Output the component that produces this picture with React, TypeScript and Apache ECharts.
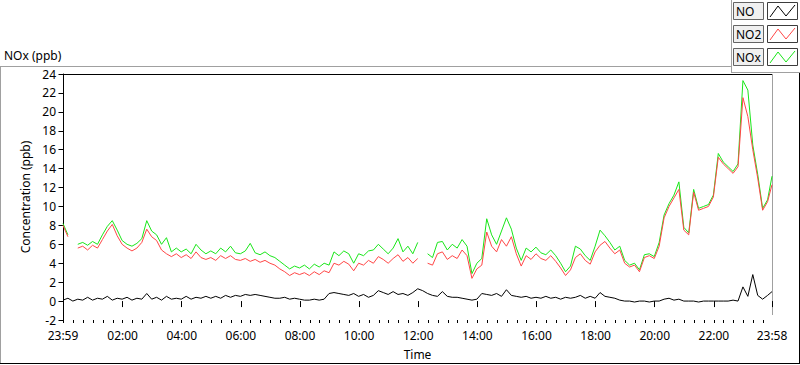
import React, { useEffect, useRef } from "react";
import * as echarts from "echarts";

// Time axis: minutes after midnight; 23:59 of the previous day = -1
const START_MIN = -1;
const END_MIN = 1438;
const STEP_MIN = 10;

// NO2 (ppb), one value every 10 minutes starting at 23:59
const no2: (number | null)[] = [
  8.0, 6.8, null, 5.6, 5.8, 5.4, 5.9, 5.6, 6.5, 7.4, 8.1, 6.9,
  6.0, 5.6, 5.3, 5.6, 6.2, 7.6, 6.8, 6.4, 5.4, 5.0, 4.7, 5.0,
  4.6, 4.9, 4.5, 5.2, 4.6, 4.4, 4.6, 4.3, 4.8, 4.5, 4.8, 4.4,
  4.3, 4.5, 4.2, 4.4, 4.1, 4.3, 4.0, 3.8, 3.4, 3.1, 2.7, 3.0,
  2.8, 3.0, 2.7, 3.1, 2.8, 3.2, 3.0, 4.0, 3.8, 4.2, 3.9, 3.2,
  4.0, 3.8, 4.3, 4.0, 4.7, 4.4, 4.0, 4.5, 4.9, 4.2, 4.6, 4.0,
  4.5, null, 4.0, 3.8, 5.0, 5.2, 4.4, 4.8, 4.5, 5.4, 4.8, 2.4,
  3.4, 3.8, 7.3, 5.8, 5.2, 6.5, 5.8, 6.8, 5.0, 3.7, 4.8, 4.4,
  5.0, 4.5, 4.3, 4.8, 4.2, 3.5, 2.7, 3.3, 4.6, 5.0, 4.3, 3.9,
  5.2, 5.9, 6.3, 5.6, 5.0, 5.4, 4.0, 3.6, 3.8, 3.1, 4.6, 4.8,
  4.5, 5.8, 8.8, 10.0, 10.9, 11.8, 7.5, 7.0, 11.5, 9.6, 9.8, 10.0,
  11.0, 15.2, 14.5, 14.0, 13.5, 14.2, 21.5, 19.5, 16.0, 13.0, 9.6, 10.5,
  12.3,
];

// NOx (ppb)
const nox: (number | null)[] = [
  8.2, 7.0, null, 6.0, 6.2, 5.9, 6.3, 6.0, 7.0, 7.9, 8.5, 7.5,
  6.4, 6.0, 5.8, 6.1, 6.6, 8.5, 7.4, 7.0, 6.0, 6.7, 5.2, 5.6,
  5.2, 5.5, 5.0, 6.0, 5.4, 5.0, 5.3, 5.0, 5.6, 5.2, 5.8, 5.1,
  5.0, 5.3, 6.1, 5.1, 4.9, 5.2, 4.8, 4.6, 4.2, 3.8, 3.4, 3.7,
  3.5, 3.8, 3.4, 3.9, 3.6, 4.0, 3.8, 5.2, 4.8, 5.3, 5.0, 4.0,
  5.0, 4.8, 5.3, 5.4, 6.0, 5.5, 5.0, 5.6, 6.6, 5.2, 5.8, 5.0,
  6.2, null, 5.0, 4.6, 6.2, 6.3, 5.4, 6.0, 5.6, 6.5, 5.8, 2.9,
  4.0, 4.5, 8.7, 7.0, 6.0, 7.4, 8.8, 7.6, 5.6, 4.3, 5.6, 5.2,
  5.7, 5.1, 4.9, 5.4, 4.8, 4.0, 3.1, 3.7, 5.8, 5.5, 4.8, 4.3,
  5.8, 7.5, 6.9, 6.2, 5.4, 5.8, 4.3, 3.8, 4.0, 3.3, 4.9, 5.0,
  4.7, 6.2, 9.1, 10.3, 11.2, 12.6, 7.8, 7.2, 11.8, 9.8, 10.0, 10.2,
  11.2, 15.6, 14.7, 14.2, 13.7, 14.5, 23.3, 22.3, 16.5, 13.4, 9.8, 10.7,
  13.2,
];

// NO (ppb)
const no: (number | null)[] = [
  0.1, 0.3, 0.0, 0.2, 0.1, 0.4, 0.1, 0.3, 0.2, 0.5, 0.1, 0.3,
  0.2, 0.4, 0.1, 0.3, 0.2, 0.8, 0.2, 0.4, 0.1, 0.5, 0.2, 0.3,
  0.2, 0.5, 0.2, 0.4, 0.3, 0.5, 0.3, 0.5, 0.3, 0.6, 0.4, 0.6,
  0.5, 0.7, 0.6, 0.7, 0.6, 0.5, 0.4, 0.3, 0.3, 0.4, 0.2, 0.3,
  0.2, 0.1, 0.1, 0.2, 0.1, 0.2, 0.8, 0.9, 0.8, 0.7, 0.6, 0.8,
  0.5, 0.7, 0.4, 0.6, 1.1, 0.9, 0.7, 1.0, 0.7, 0.8, 0.6, 0.9,
  1.3, 1.1, 0.8, 0.6, 0.5, 1.0, 0.5, 0.4, 0.4, 0.3, 0.2, 0.1,
  0.2, 0.8, 0.7, 0.6, 0.8, 0.5, 1.2, 0.6, 0.5, 0.4, 0.5, 0.3,
  0.4, 0.3, 0.5, 0.3, 0.4, 0.2, 0.4, 0.3, 0.4, 0.6, 0.3, 0.5,
  0.3, 0.9, 0.5, 0.4, 0.3, 0.1, 0.0, 0.0, -0.1, 0.0, 0.0, -0.1,
  0.0, 0.0, 0.2, 0.3, 0.1, 0.2, 0.0, 0.0, 0.0, -0.1, 0.0, 0.0,
  0.0, 0.0, 0.0, 0.0, 0.1, 0.0, 1.5, 0.5, 2.8, 0.6, 0.2, 0.6,
  1.0,
];

// Labelled ticks on the time axis (minutes after midnight)
const majorTickMinutes = [-1, 120, 240, 360, 480, 600, 720, 840, 960, 1080, 1200, 1320, 1438];
const MINOR_TICK_STEP = 20;

const seriesInfo = [
  { name: "NO", color: "#000000", values: no },
  { name: "NO2", color: "#ff4646", values: no2 },
  { name: "NOx", color: "#19e619", values: nox },
];

const FONT = "'Segoe UI', 'Noto Sans', sans-serif";

function timeAt(i: number) {
  return Math.min(START_MIN + i * STEP_MIN, END_MIN);
}

function fmtTime(v: number) {
  let m = Math.round(v);
  if (m < 0) m += 1440;
  const hh = Math.floor(m / 60);
  const mm = m % 60;
  return String(hh).padStart(2, "0") + ":" + String(mm).padStart(2, "0");
}

export default function App() {
  const ref = useRef<HTMLDivElement>(null);

  useEffect(() => {
    if (!ref.current) return;
    const chart = echarts.init(ref.current, undefined, { renderer: "svg" });

    const minorTicks: number[] = [];
    for (let m = 0; m <= END_MIN; m += MINOR_TICK_STEP) minorTicks.push(m);

    const gridL = 63, gridT = 74, gridW = 709, gridH = 246;

    const legendGraphics: any[] = [];
    seriesInfo.forEach((s, k) => {
      const y0 = 2 + k * 23;
      legendGraphics.push(
        {
          type: "rect",
          shape: { x: 733.5, y: y0 + 0.5, width: 30, height: 17 },
          style: { fill: "#f0f0f0", stroke: "#646464", lineWidth: 1 },
        },
        {
          type: "text",
          x: 736,
          y: y0 + 9,
          style: { text: s.name, fill: "#000", font: "12px " + FONT, verticalAlign: "middle" },
        },
        {
          type: "rect",
          shape: { x: 767.5, y: y0 + 0.5, width: 30, height: 17 },
          style: { fill: "#ffffff", stroke: "#3c3c3c", lineWidth: 1 },
        },
        {
          type: "polyline",
          shape: {
            points: [
              [770, y0 + 15],
              [778, y0 + 4],
              [786, y0 + 14],
              [795, y0 + 3],
            ],
          },
          style: { stroke: s.color, lineWidth: 1, fill: "none" },
        }
      );
    });

    const option: any = {
      animation: false,
      backgroundColor: "#ffffff",
      textStyle: { fontFamily: FONT },
      grid: {
        left: gridL,
        top: gridT,
        width: gridW,
        height: gridH,
        containLabel: false,
        outerBoundsMode: "none",
      },
      xAxis: [
        {
          type: "value",
          min: START_MIN,
          max: END_MIN,
          name: "Time",
          nameLocation: "middle",
          nameGap: 28,
          nameTextStyle: { color: "#000", fontSize: 12, fontFamily: FONT },
          axisLine: { show: false },
          axisTick: {
            show: true,
            customValues: majorTickMinutes,
            length: 6,
            lineStyle: { color: "#000", width: 1 },
          },
          axisLabel: {
            customValues: majorTickMinutes,
            formatter: (v: number) => fmtTime(v),
            color: "#000",
            fontSize: 12,
            fontFamily: FONT,
            margin: 9,
            showMinLabel: true,
            showMaxLabel: true,
          },
          splitLine: { show: false },
        },
        {
          type: "value",
          min: START_MIN,
          max: END_MIN,
          position: "bottom",
          axisLine: { show: false },
          axisTick: {
            show: true,
            customValues: minorTicks,
            length: 3,
            lineStyle: { color: "#000", width: 1 },
          },
          axisLabel: { show: false },
          splitLine: { show: false },
        },
      ],
      yAxis: {
        type: "value",
        min: -2,
        max: 24,
        interval: 2,
        name: "Concentration (ppb)",
        nameLocation: "middle",
        nameGap: 29,
        nameRotate: 90,
        nameTextStyle: { color: "#000", fontSize: 12, fontFamily: FONT },
        axisLine: { show: true, lineStyle: { color: "#000", width: 1 } },
        axisTick: { show: true, length: 5, lineStyle: { color: "#000" } },
        axisLabel: { color: "#000", fontSize: 12, fontFamily: FONT, margin: 7 },
        splitLine: { show: false },
      },
      graphic: [
        // outer frame
        { type: "line", shape: { x1: 0, y1: 66.5, x2: 731, y2: 66.5 }, style: { stroke: "#a0a0a0", lineWidth: 1 } },
        { type: "line", shape: { x1: 0.5, y1: 66, x2: 0.5, y2: 363 }, style: { stroke: "#a0a0a0", lineWidth: 1 } },
        { type: "line", shape: { x1: 0, y1: 363.5, x2: 800, y2: 363.5 }, style: { stroke: "#000", lineWidth: 1 } },
        { type: "line", shape: { x1: 799.5, y1: 72, x2: 799.5, y2: 364 }, style: { stroke: "#000", lineWidth: 1 } },
        // legend panel border
        { type: "line", shape: { x1: 731.5, y1: 0, x2: 731.5, y2: 72 }, style: { stroke: "#a0a0a0", lineWidth: 1 } },
        { type: "line", shape: { x1: 731, y1: 72.5, x2: 800, y2: 72.5 }, style: { stroke: "#a0a0a0", lineWidth: 1 } },
        // plot box top and right
        { type: "line", shape: { x1: gridL, y1: gridT + 0.5, x2: gridL + gridW, y2: gridT + 0.5 }, style: { stroke: "#000", lineWidth: 1 } },
        { type: "line", shape: { x1: gridL + gridW + 0.5, y1: gridT, x2: gridL + gridW + 0.5, y2: 315 }, style: { stroke: "#a0a0a0", lineWidth: 1 } },
        // chart title
        {
          type: "text",
          x: 4,
          y: 55,
          style: { text: "NOx (ppb)", fill: "#000", font: "12px " + FONT, verticalAlign: "middle" },
        },
        ...legendGraphics,
      ],
      series: [
        // drawn NOx first, then NO2 over it, then NO
        ...[seriesInfo[2], seriesInfo[1], seriesInfo[0]].map((s) => ({
          name: s.name,
          type: "line",
          xAxisIndex: 0,
          showSymbol: false,
          connectNulls: false,
          lineStyle: { color: s.color, width: 1 },
          itemStyle: { color: s.color },
          data: s.values.map((v, i) => [timeAt(i), v]),
          clip: true,
        })),
      ],
    };

    chart.setOption(option);
    return () => chart.dispose();
  }, []);

  return (
    <div
      ref={ref}
      style={{ position: "fixed", left: 0, top: 0, width: 800, height: 365 }}
    />
  );
}
